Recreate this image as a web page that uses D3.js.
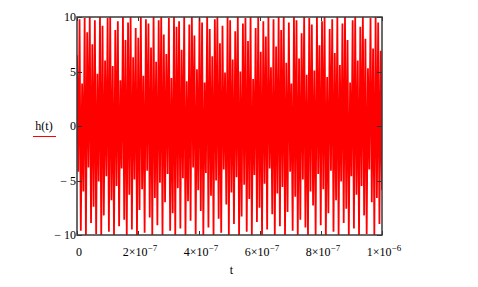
<!DOCTYPE html>
<html>
<head>
<meta charset="utf-8">
<script src="https://cdn.jsdelivr.net/npm/d3@7"></script>
<style>
  body { margin: 0; background: #fff; }
  text { font-family: "Liberation Serif", "Times New Roman", serif; fill: #000; }
</style>
</head>
<body>
<div id="chart"></div>
<script>
// h(t) local maxima and minima left to right
var peaks = [
  6.5, 9.8, 3.9, 9.9, 8.6, 10, 7.5, 9.7, 4.8, 10, 9.2, 6.0, 9.9, 10, 5.5, 8.8, 9.6, 4.2, 10, 7.9,
  9.5, 10, 6.3, 9.0, 8.1, 10, 4.6, 9.8, 9.4, 7.2, 10, 5.9, 9.7, 10, 8.4, 6.6, 9.9, 4.4, 10, 9.1,
  9.6, 7.0, 10, 4.1, 9.3, 10, 8.3, 5.2, 9.9, 9.5, 4.0, 10, 8.9, 6.4, 9.8, 10, 7.6, 9.2, 4.9, 10,
  9.7, 6.1, 8.7, 10, 5.0, 9.4, 9.9, 7.8, 10, 4.3, 9.0, 10, 6.8, 9.6, 8.2, 10, 5.4, 9.8, 7.3, 10,
  8.8, 10, 5.8, 9.5, 3.9, 10, 9.7, 6.2, 8.5, 10, 4.7, 9.9, 9.3, 5.1, 10, 7.4, 9.6, 10, 4.5, 8.9,
  9.8, 6.7, 10, 5.6, 9.4, 10, 7.9, 4.0, 9.7, 10, 6.0, 9.1, 10, 8.0, 5.3, 9.9, 7.1, 10, 9.5, 6.9
];
var troughs = [
  -4.2, -9.6, -6.0, -10, -3.8, -8.9, -7.4, -9.9, -5.1, -10, -8.2, -4.6, -9.7, -6.8, -10, -5.5, -9.2, -3.9, -8.6, -10,
  -6.3, -9.5, -4.9, -10, -7.7, -5.8, -9.8, -4.1, -8.4, -10, -6.6, -9.1, -5.2, -10, -7.0, -4.4, -9.6, -8.0, -10, -5.7,
  -9.4, -4.8, -10, -6.9, -8.7, -3.8, -9.9, -5.9, -7.8, -10, -4.3, -9.3, -6.4, -10, -5.0, -8.5, -9.8, -4.0, -7.2, -10,
  -6.1, -9.0, -4.7, -10, -8.3, -5.4, -9.7, -6.7, -10, -4.5, -8.8, -7.5, -10, -5.3, -9.5, -3.9, -8.1, -10, -6.2, -9.2,
  -5.6, -10, -7.9, -4.2, -9.6, -6.5, -10, -8.6, -4.9, -9.3, -10, -6.0, -7.3, -10, -4.4, -9.1, -5.8, -10, -8.0, -4.1,
  -9.7, -6.8, -10, -5.1, -8.9, -7.6, -10, -4.6, -9.4, -6.3, -10, -5.5, -8.2, -9.9, -4.0, -7.0, -10, -6.6, -9.0, -5.9
];
var tStart = 0, tEnd = 1e-6;

var xTicks = [0, 2e-7, 4e-7, 6e-7, 8e-7, 1e-6];
var xTickMant = ["0", "2×10", "4×10", "6×10", "8×10", "1×10"];
var xTickExp = ["", "−7", "−7", "−7", "−7", "−6"];
var yTicks = [10, 5, 0, -5, -10];
var yTickLabels = ["10", "5", "0", "− 5", "− 10"];

var width = 478, height = 287;
var plotLeft = 77, plotRight = 382, plotTop = 17, plotBottom = 235;

// interleave maxima and minima into one sample series
var samples = [];
for (var i = 0; i < peaks.length; i++) {
  samples.push(peaks[i]);
  samples.push(troughs[i]);
}
var n = samples.length;

var x = d3.scaleLinear().domain([tStart, tEnd]).range([plotLeft, plotRight]);
var y = d3.scaleLinear().domain([-10, 10]).range([plotBottom, plotTop]);

var svg = d3.select("#chart").append("svg")
  .attr("width", width)
  .attr("height", height);

svg.append("rect").attr("width", width).attr("height", height).attr("fill", "#fff");

svg.append("clipPath").attr("id", "plotClip")
  .append("rect")
  .attr("x", plotLeft).attr("y", plotTop)
  .attr("width", plotRight - plotLeft).attr("height", plotBottom - plotTop);

var line = d3.line()
  .x(function(d, i) { return x(tStart + i * (tEnd - tStart) / (n - 1)); })
  .y(function(d) { return y(d); });

svg.append("path")
  .datum(samples)
  .attr("clip-path", "url(#plotClip)")
  .attr("d", line)
  .attr("fill", "none")
  .attr("stroke", "#ff0000")
  .attr("stroke-width", 1.8)
  .attr("stroke-linejoin", "miter")
  .attr("stroke-miterlimit", 1);

// inward tick marks on all four sides
var ticks = svg.append("g").attr("stroke", "#333").attr("stroke-width", 1);
xTicks.forEach(function(t) {
  var px = Math.round(x(t)) + 0.5;
  ticks.append("line").attr("x1", px).attr("x2", px).attr("y1", plotTop).attr("y2", plotTop + 4);
  ticks.append("line").attr("x1", px).attr("x2", px).attr("y1", plotBottom).attr("y2", plotBottom - 4);
});
yTicks.forEach(function(v) {
  var py = Math.round(y(v)) + 0.5;
  ticks.append("line").attr("x1", plotLeft).attr("x2", plotLeft + 5).attr("y1", py).attr("y2", py);
  ticks.append("line").attr("x1", plotRight).attr("x2", plotRight - 5).attr("y1", py).attr("y2", py);
});

// frame
svg.append("rect")
  .attr("x", plotLeft).attr("y", plotTop)
  .attr("width", plotRight - plotLeft).attr("height", plotBottom - plotTop)
  .attr("fill", "none")
  .attr("stroke", "#3a3a3a")
  .attr("stroke-width", 1.5);

// y tick labels
svg.append("g").selectAll("text")
  .data(yTicks)
  .enter().append("text")
    .attr("x", plotLeft - 1)
    .attr("y", function(d) { return y(d) + 4; })
    .attr("text-anchor", "end")
    .attr("font-size", 12)
    .text(function(d, i) { return yTickLabels[i]; });

// x tick labels with superscript exponents
var xl = svg.append("g").selectAll("text")
  .data(xTicks)
  .enter().append("text")
    .attr("x", function(d, i) { return x(d) + 2; })
    .attr("y", 256)
    .attr("text-anchor", "middle")
    .attr("font-size", 12);
xl.append("tspan").text(function(d, i) { return xTickMant[i]; });
xl.append("tspan")
  .attr("dy", -5)
  .attr("font-size", 9)
  .text(function(d, i) { return xTickExp[i]; });

// axis titles
svg.append("text")
  .attr("x", (plotLeft + plotRight) / 2 + 2)
  .attr("y", 274)
  .attr("text-anchor", "middle")
  .attr("font-size", 12)
  .text("t");

svg.append("text")
  .attr("x", 44)
  .attr("y", 130)
  .attr("text-anchor", "middle")
  .attr("font-size", 12)
  .text("h(t)");

svg.append("line")
  .attr("x1", 33).attr("x2", 56)
  .attr("y1", 136.5).attr("y2", 136.5)
  .attr("stroke", "#ff0000")
  .attr("stroke-width", 1);
</script>
</body>
</html>
